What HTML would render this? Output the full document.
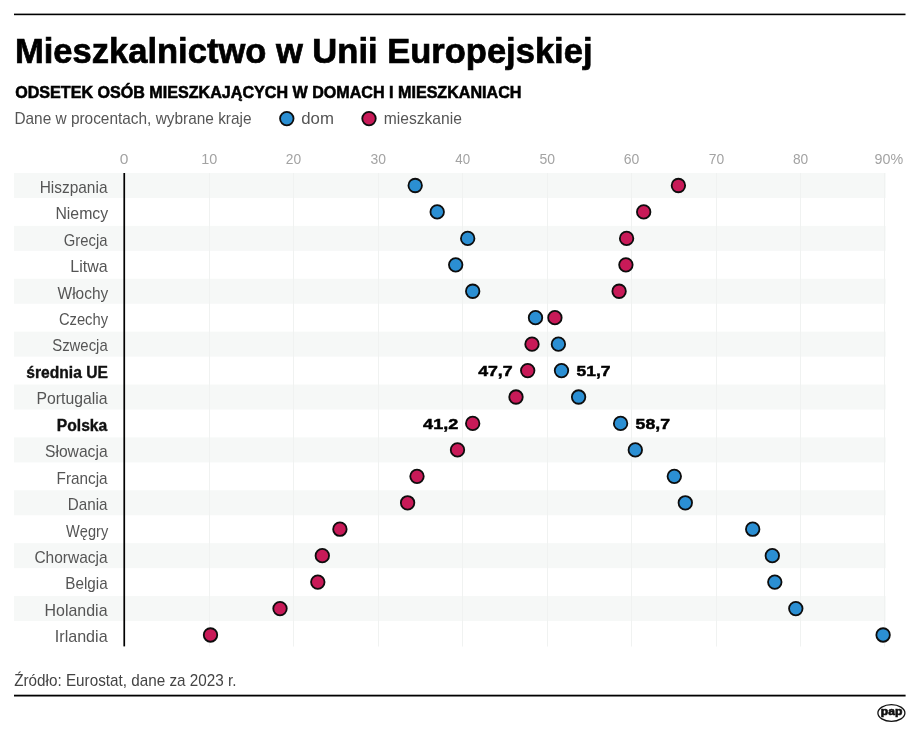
<!DOCTYPE html>
<html lang="pl"><head><meta charset="utf-8"><title>Mieszkalnictwo w Unii Europejskiej</title>
<style>
html,body{margin:0;padding:0;background:#fff;}
body{width:920px;height:733px;overflow:hidden;}
svg{display:block;font-family:"Liberation Sans", "DejaVu Sans", sans-serif;will-change:transform;}
</style></head><body>
<svg width="920" height="733" viewBox="0 0 920 733">
<rect x="0" y="0" width="920" height="733" fill="#fff"/>
<rect x="14" y="13.6" width="891.5" height="1.6" fill="#000"/>
<circle cx="286.8" cy="118.6" r="6.75" fill="#2b8fd3" stroke="#0d0d0d" stroke-width="1.8"/>
<circle cx="369" cy="118.6" r="6.75" fill="#c81a58" stroke="#0d0d0d" stroke-width="1.8"/>
<rect x="14" y="173.00" width="871.7" height="25" fill="#f6f8f7"/>
<rect x="14" y="225.88" width="871.7" height="25" fill="#f6f8f7"/>
<rect x="14" y="278.76" width="871.7" height="25" fill="#f6f8f7"/>
<rect x="14" y="331.64" width="871.7" height="25" fill="#f6f8f7"/>
<rect x="14" y="384.52" width="871.7" height="25" fill="#f6f8f7"/>
<rect x="14" y="437.40" width="871.7" height="25" fill="#f6f8f7"/>
<rect x="14" y="490.28" width="871.7" height="25" fill="#f6f8f7"/>
<rect x="14" y="543.16" width="871.7" height="25" fill="#f6f8f7"/>
<rect x="14" y="596.04" width="871.7" height="25" fill="#f6f8f7"/>
<rect x="209" y="173" width="1" height="473.5" fill="#f0f2f1"/>
<rect x="293" y="173" width="1" height="473.5" fill="#f0f2f1"/>
<rect x="378" y="173" width="1" height="473.5" fill="#f0f2f1"/>
<rect x="462" y="173" width="1" height="473.5" fill="#f0f2f1"/>
<rect x="547" y="173" width="1" height="473.5" fill="#f0f2f1"/>
<rect x="631" y="173" width="1" height="473.5" fill="#f0f2f1"/>
<rect x="716" y="173" width="1" height="473.5" fill="#f0f2f1"/>
<rect x="800" y="173" width="1" height="473.5" fill="#f0f2f1"/>
<rect x="884" y="173" width="1" height="473.5" fill="#f0f2f1"/>
<rect x="123.4" y="173" width="1.7" height="473.4" fill="#000"/>
<circle cx="415.2" cy="185.50" r="6.75" fill="#2b8fd3" stroke="#0d0d0d" stroke-width="1.8"/>
<circle cx="678.4" cy="185.50" r="6.75" fill="#c81a58" stroke="#0d0d0d" stroke-width="1.8"/>
<circle cx="437.2" cy="211.94" r="6.75" fill="#2b8fd3" stroke="#0d0d0d" stroke-width="1.8"/>
<circle cx="643.7" cy="211.94" r="6.75" fill="#c81a58" stroke="#0d0d0d" stroke-width="1.8"/>
<circle cx="467.7" cy="238.38" r="6.75" fill="#2b8fd3" stroke="#0d0d0d" stroke-width="1.8"/>
<circle cx="626.6" cy="238.38" r="6.75" fill="#c81a58" stroke="#0d0d0d" stroke-width="1.8"/>
<circle cx="455.7" cy="264.82" r="6.75" fill="#2b8fd3" stroke="#0d0d0d" stroke-width="1.8"/>
<circle cx="625.9" cy="264.82" r="6.75" fill="#c81a58" stroke="#0d0d0d" stroke-width="1.8"/>
<circle cx="472.7" cy="291.26" r="6.75" fill="#2b8fd3" stroke="#0d0d0d" stroke-width="1.8"/>
<circle cx="619.1" cy="291.26" r="6.75" fill="#c81a58" stroke="#0d0d0d" stroke-width="1.8"/>
<circle cx="535.5" cy="317.70" r="6.75" fill="#2b8fd3" stroke="#0d0d0d" stroke-width="1.8"/>
<circle cx="554.9" cy="317.70" r="6.75" fill="#c81a58" stroke="#0d0d0d" stroke-width="1.8"/>
<circle cx="558.4" cy="344.14" r="6.75" fill="#2b8fd3" stroke="#0d0d0d" stroke-width="1.8"/>
<circle cx="532.0" cy="344.14" r="6.75" fill="#c81a58" stroke="#0d0d0d" stroke-width="1.8"/>
<circle cx="561.5" cy="370.58" r="6.75" fill="#2b8fd3" stroke="#0d0d0d" stroke-width="1.8"/>
<circle cx="527.7" cy="370.58" r="6.75" fill="#c81a58" stroke="#0d0d0d" stroke-width="1.8"/>
<circle cx="578.6" cy="397.02" r="6.75" fill="#2b8fd3" stroke="#0d0d0d" stroke-width="1.8"/>
<circle cx="516.0" cy="397.02" r="6.75" fill="#c81a58" stroke="#0d0d0d" stroke-width="1.8"/>
<circle cx="620.6" cy="423.46" r="6.75" fill="#2b8fd3" stroke="#0d0d0d" stroke-width="1.8"/>
<circle cx="472.7" cy="423.46" r="6.75" fill="#c81a58" stroke="#0d0d0d" stroke-width="1.8"/>
<circle cx="635.3" cy="449.90" r="6.75" fill="#2b8fd3" stroke="#0d0d0d" stroke-width="1.8"/>
<circle cx="457.5" cy="449.90" r="6.75" fill="#c81a58" stroke="#0d0d0d" stroke-width="1.8"/>
<circle cx="674.3" cy="476.34" r="6.75" fill="#2b8fd3" stroke="#0d0d0d" stroke-width="1.8"/>
<circle cx="417.0" cy="476.34" r="6.75" fill="#c81a58" stroke="#0d0d0d" stroke-width="1.8"/>
<circle cx="685.3" cy="502.78" r="6.75" fill="#2b8fd3" stroke="#0d0d0d" stroke-width="1.8"/>
<circle cx="407.6" cy="502.78" r="6.75" fill="#c81a58" stroke="#0d0d0d" stroke-width="1.8"/>
<circle cx="752.7" cy="529.22" r="6.75" fill="#2b8fd3" stroke="#0d0d0d" stroke-width="1.8"/>
<circle cx="339.9" cy="529.22" r="6.75" fill="#c81a58" stroke="#0d0d0d" stroke-width="1.8"/>
<circle cx="772.3" cy="555.66" r="6.75" fill="#2b8fd3" stroke="#0d0d0d" stroke-width="1.8"/>
<circle cx="322.3" cy="555.66" r="6.75" fill="#c81a58" stroke="#0d0d0d" stroke-width="1.8"/>
<circle cx="774.8" cy="582.10" r="6.75" fill="#2b8fd3" stroke="#0d0d0d" stroke-width="1.8"/>
<circle cx="317.8" cy="582.10" r="6.75" fill="#c81a58" stroke="#0d0d0d" stroke-width="1.8"/>
<circle cx="795.8" cy="608.54" r="6.75" fill="#2b8fd3" stroke="#0d0d0d" stroke-width="1.8"/>
<circle cx="280.0" cy="608.54" r="6.75" fill="#c81a58" stroke="#0d0d0d" stroke-width="1.8"/>
<circle cx="883.1" cy="634.98" r="6.75" fill="#2b8fd3" stroke="#0d0d0d" stroke-width="1.8"/>
<circle cx="210.5" cy="634.98" r="6.75" fill="#c81a58" stroke="#0d0d0d" stroke-width="1.8"/>
<text id="title" x="14.99" y="62.70" font-size="34.4" fill="#000" font-weight="bold" stroke="#000" stroke-width="0.7" textLength="577.52" lengthAdjust="spacingAndGlyphs">Mieszkalnictwo w Unii Europejskiej</text>
<text id="sub" x="15.20" y="97.60" font-size="16.2" fill="#000" font-weight="bold" stroke="#000" stroke-width="0.55" textLength="506.26" lengthAdjust="spacingAndGlyphs">ODSETEK OSÓB MIESZKAJĄCYCH W DOMACH I MIESZKANIACH</text>
<text id="desc" x="14.38" y="124.40" font-size="16.4" fill="#555" textLength="237.16" lengthAdjust="spacingAndGlyphs">Dane w procentach, wybrane kraje</text>
<text id="dom" x="301.22" y="124.40" font-size="16.4" fill="#555" textLength="32.64" lengthAdjust="spacingAndGlyphs">dom</text>
<text id="mie" x="383.76" y="124.40" font-size="16.4" fill="#555" textLength="78.12" lengthAdjust="spacingAndGlyphs">mieszkanie</text>
<text id="lab0" x="39.65" y="192.80" font-size="16.4" fill="#555" textLength="67.85" lengthAdjust="spacingAndGlyphs">Hiszpania</text>
<text id="lab1" x="55.41" y="219.24" font-size="16.4" fill="#555" textLength="52.79" lengthAdjust="spacingAndGlyphs">Niemcy</text>
<text id="lab2" x="63.85" y="245.68" font-size="16.4" fill="#555" textLength="43.61" lengthAdjust="spacingAndGlyphs">Grecja</text>
<text id="lab3" x="70.29" y="272.12" font-size="16.4" fill="#555" textLength="37.30" lengthAdjust="spacingAndGlyphs">Litwa</text>
<text id="lab4" x="57.61" y="298.56" font-size="16.4" fill="#555" textLength="50.56" lengthAdjust="spacingAndGlyphs">Włochy</text>
<text id="lab5" x="58.91" y="325.00" font-size="16.4" fill="#555" textLength="49.16" lengthAdjust="spacingAndGlyphs">Czechy</text>
<text id="lab6" x="52.20" y="351.44" font-size="16.4" fill="#555" textLength="55.50" lengthAdjust="spacingAndGlyphs">Szwecja</text>
<text id="lab7" x="26.36" y="377.88" font-size="15.6" fill="#111" font-weight="bold" stroke="#111" stroke-width="0.35" textLength="81.44" lengthAdjust="spacingAndGlyphs">średnia UE</text>
<text id="lab8" x="36.51" y="404.32" font-size="16.4" fill="#555" textLength="71.09" lengthAdjust="spacingAndGlyphs">Portugalia</text>
<text id="lab9" x="56.79" y="430.76" font-size="15.6" fill="#111" font-weight="bold" stroke="#111" stroke-width="0.35" textLength="50.49" lengthAdjust="spacingAndGlyphs">Polska</text>
<text id="lab10" x="44.98" y="457.20" font-size="16.4" fill="#555" textLength="62.69" lengthAdjust="spacingAndGlyphs">Słowacja</text>
<text id="lab11" x="56.55" y="483.64" font-size="16.4" fill="#555" textLength="51.01" lengthAdjust="spacingAndGlyphs">Francja</text>
<text id="lab12" x="67.79" y="510.08" font-size="16.4" fill="#555" textLength="39.81" lengthAdjust="spacingAndGlyphs">Dania</text>
<text id="lab13" x="66.10" y="536.52" font-size="16.4" fill="#555" textLength="42.12" lengthAdjust="spacingAndGlyphs">Węgry</text>
<text id="lab14" x="34.41" y="562.96" font-size="16.4" fill="#555" textLength="73.21" lengthAdjust="spacingAndGlyphs">Chorwacja</text>
<text id="lab15" x="65.27" y="589.40" font-size="16.4" fill="#555" textLength="42.34" lengthAdjust="spacingAndGlyphs">Belgia</text>
<text id="lab16" x="44.54" y="615.84" font-size="16.4" fill="#555" textLength="63.00" lengthAdjust="spacingAndGlyphs">Holandia</text>
<text id="lab17" x="54.81" y="642.28" font-size="16.4" fill="#555" textLength="52.80" lengthAdjust="spacingAndGlyphs">Irlandia</text>
<text id="v477" x="478.15" y="375.88" font-size="15.4" fill="#000" font-weight="bold" stroke="#000" stroke-width="0.5" textLength="34.53" lengthAdjust="spacingAndGlyphs">47,7</text>
<text id="v517" x="576.52" y="375.88" font-size="15.4" fill="#000" font-weight="bold" stroke="#000" stroke-width="0.5" textLength="34.06" lengthAdjust="spacingAndGlyphs">51,7</text>
<text id="v412" x="423.14" y="429.06" font-size="15.4" fill="#000" font-weight="bold" stroke="#000" stroke-width="0.5" textLength="35.03" lengthAdjust="spacingAndGlyphs">41,2</text>
<text id="v587" x="635.64" y="429.06" font-size="15.4" fill="#000" font-weight="bold" stroke="#000" stroke-width="0.5" textLength="34.34" lengthAdjust="spacingAndGlyphs">58,7</text>
<text id="src" x="14.18" y="686.10" font-size="16.2" fill="#444" textLength="222.23" lengthAdjust="spacingAndGlyphs">Źródło: Eurostat, dane za 2023 r.</text>
<text id="ax90" x="874.56" y="164.30" font-size="15.0" fill="#a3a3a3" textLength="28.61" lengthAdjust="spacingAndGlyphs">90%</text>
<text id="ax0" x="119.82" y="164.30" font-size="15.0" fill="#a3a3a3" textLength="8.63" lengthAdjust="spacingAndGlyphs">0</text>
<text id="ax10" x="201.27" y="164.30" font-size="15.0" fill="#a3a3a3" textLength="16.01" lengthAdjust="spacingAndGlyphs">10</text>
<text id="ax20" x="285.83" y="164.30" font-size="15.0" fill="#a3a3a3" textLength="15.34" lengthAdjust="spacingAndGlyphs">20</text>
<text id="ax30" x="370.62" y="164.30" font-size="15.0" fill="#a3a3a3" textLength="15.49" lengthAdjust="spacingAndGlyphs">30</text>
<text id="ax40" x="455.24" y="164.30" font-size="15.0" fill="#a3a3a3" textLength="14.82" lengthAdjust="spacingAndGlyphs">40</text>
<text id="ax50" x="539.55" y="164.30" font-size="15.0" fill="#a3a3a3" textLength="15.54" lengthAdjust="spacingAndGlyphs">50</text>
<text id="ax60" x="623.73" y="164.30" font-size="15.0" fill="#a3a3a3" textLength="15.54" lengthAdjust="spacingAndGlyphs">60</text>
<text id="ax70" x="708.77" y="164.30" font-size="15.0" fill="#a3a3a3" textLength="15.41" lengthAdjust="spacingAndGlyphs">70</text>
<text id="ax80" x="792.90" y="164.30" font-size="15.0" fill="#a3a3a3" textLength="15.26" lengthAdjust="spacingAndGlyphs">80</text>
<rect x="14" y="694.7" width="891.6" height="1.8" fill="#000"/>
<ellipse cx="891.4" cy="713" rx="13.5" ry="8.3" fill="#fff" stroke="#111" stroke-width="1.3"/>
<text x="891.6" y="714.9" font-size="10.5" font-weight="bold" fill="#111" stroke="#111" stroke-width="0.6" text-anchor="middle" textLength="21.5" lengthAdjust="spacingAndGlyphs">pap</text>
</svg>
</body></html>
